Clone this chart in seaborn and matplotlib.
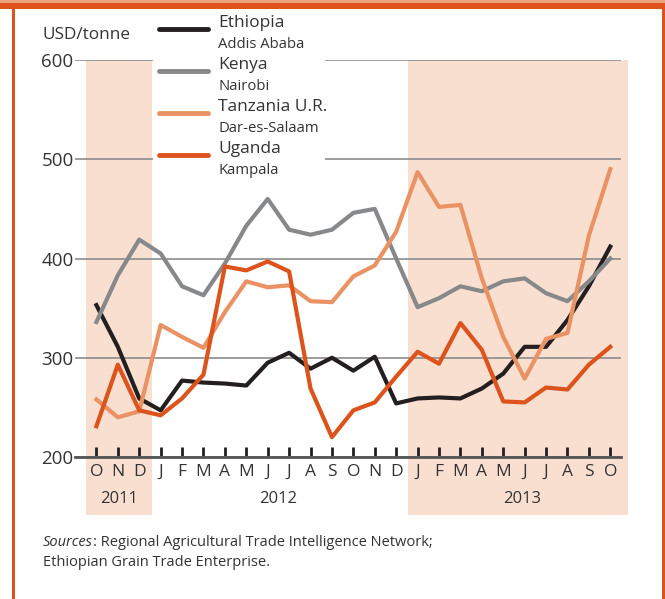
import numpy as np
import pandas as pd
import seaborn as sns
import matplotlib.pyplot as plt
from matplotlib.patches import Rectangle
from matplotlib.lines import Line2D

# luni Oct 2011 - Oct 2013
luni = list("ONDJFMAMJJASONDJFMAMJJASO")
ani = ['2011', '2012', '2013']

etiopia = [353, 311, 259, 247, 277, 275, 274, 272, 295, 305, 289, 300, 287,
           301, 254, 259, 260, 259, 269, 284, 311, 311, 338, 372, 412]
kenya = [336, 383, 419, 405, 372, 363, 395, 433, 460, 429, 424, 429, 446,
         450, 400, 351, 360, 372, 367, 377, 380, 365, 357, 377, 400]
tanzania = [258, 240, 246, 333, 321, 310, 346, 377, 371, 373, 357, 356, 382,
            393, 427, 487, 452, 454, 380, 321, 279, 319, 325, 423, 490]
uganda = [231, 293, 247, 242, 259, 283, 392, 388, 397, 387, 269, 220, 247,
          255, 281, 306, 294, 335, 308, 256, 255, 270, 268, 293, 311]

tari = ['Ethiopia', 'Kenya', 'Tanzania U.R.', 'Uganda']
orase = ['Addis Ababa', 'Nairobi', 'Dar-es-Salaam', 'Kampala']
culori = {'Ethiopia': '#231f20', 'Kenya': '#87888a',
          'Tanzania U.R.': '#ea9264', 'Uganda': '#dc531c'}

W, H = 665, 599
plt.rcParams['font.family'] = ['Open Sans', 'DejaVu Sans']

df = pd.DataFrame({'luna': np.arange(len(luni))})
for t, v in zip(tari, [etiopia, kenya, tanzania, uganda]):
    df[t] = v
df = df.melt(id_vars='luna', var_name='tara', value_name='pret')

fig = plt.figure(figsize=(W / 100, H / 100), dpi=100)
ax = fig.add_axes([75 / W, 1 - 457 / H, (621 - 75) / W, (457 - 60) / H])

# zone umbrite pentru 2011 si 2013
umbra = '#f9dfd0'
for x0, x1 in [(-0.47, 2.6), (14.55, 24.85)]:
    ax.add_patch(Rectangle((x0, -0.146), x1 - x0, 1.146, facecolor=umbra,
                           edgecolor='none', transform=ax.get_xaxis_transform(),
                           clip_on=False, zorder=0))

sns.lineplot(data=df, x='luna', y='pret', hue='tara', palette=culori,
             linewidth=3.0, legend=False, ax=ax, zorder=3)

ax.set_xlim(-1, 24.5)
ax.set_ylim(200, 600)
ax.set_yticks([200, 300, 400, 500, 600])
ax.set_xticks(range(len(luni)))
ax.set_xticklabels(luni)
ax.set_xlabel('')
ax.set_ylabel('')
ax.set_axisbelow(True)
ax.grid(axis='y', color='#8c8c8c', linewidth=1.2)
ax.grid(axis='x', visible=False)
for s in ['top', 'right', 'left']:
    ax.spines[s].set_visible(False)
ax.spines['bottom'].set_color('#555555')
ax.spines['bottom'].set_linewidth(2.0)
ax.tick_params(axis='y', length=0, pad=1, labelsize=13.5, labelcolor='#333333')
ax.tick_params(axis='x', direction='in', length=7, width=2, color='#231f20',
               pad=5, labelsize=12.5, labelcolor='#333333')
ax.set_facecolor('none')

for an, poz in zip(ani, [1.07, 8.5, 19.9]):
    ax.text(poz, -0.105, an, transform=ax.get_xaxis_transform(), ha='center',
            va='center', fontsize=12, color='#333333')

# caseta legendei
ax.add_patch(Rectangle((153 / W, 1 - 180 / H), 172 / W, 170 / H,
                       facecolor='white', edgecolor='none',
                       transform=fig.transFigure, clip_on=False, zorder=1))
for k, (t, o) in enumerate(zip(tari, orase)):
    yl = 29 + 42 * k
    fig.add_artist(Line2D([159 / W, 208 / W], [1 - yl / H] * 2, color=culori[t],
                          linewidth=3.5, solid_capstyle='round'))
    fig.text(218 / W, 1 - (yl - 6) / H, t, fontsize=12.5, color='#333333',
             va='center')
    fig.text(218 / W, 1 - (yl + 15) / H, o, fontsize=10.7, color='#333333',
             va='center')

fig.text(42 / W, 1 - 35 / H, 'USD/tonne', fontsize=12.3, color='#333333',
         va='center')

t1 = fig.text(43 / W, 1 - 543 / H, 'Sources', fontsize=10.5, style='italic',
              color='#333333', va='center')
fig.text(43 / W, 1 - 563 / H, 'Ethiopian Grain Trade Enterprise.', fontsize=10.5,
         color='#333333', va='center')
ax.annotate(': Regional Agricultural Trade Intelligence Network;', xy=(1, 0),
            xycoords=t1, va='bottom', fontsize=10.5, color='#333333')

# chenar
fig.add_artist(Rectangle((0, 1 - 3.3 / H), 1, 3.3 / H, facecolor='#eea27c',
                         edgecolor='none', transform=fig.transFigure))
fig.add_artist(Rectangle((0, 1 - 8.5 / H), 1, 5.2 / H, facecolor='#dc531c',
                         edgecolor='none', transform=fig.transFigure))
fig.add_artist(Rectangle((12 / W, 0), 2.5 / W, 1 - 8.5 / H, facecolor='#dc531c',
                         edgecolor='none', transform=fig.transFigure))
fig.add_artist(Rectangle((662 / W, 0), 2.5 / W, 1 - 8.5 / H, facecolor='#dc531c',
                         edgecolor='none', transform=fig.transFigure))

fig.savefig('out.png', dpi=100)
